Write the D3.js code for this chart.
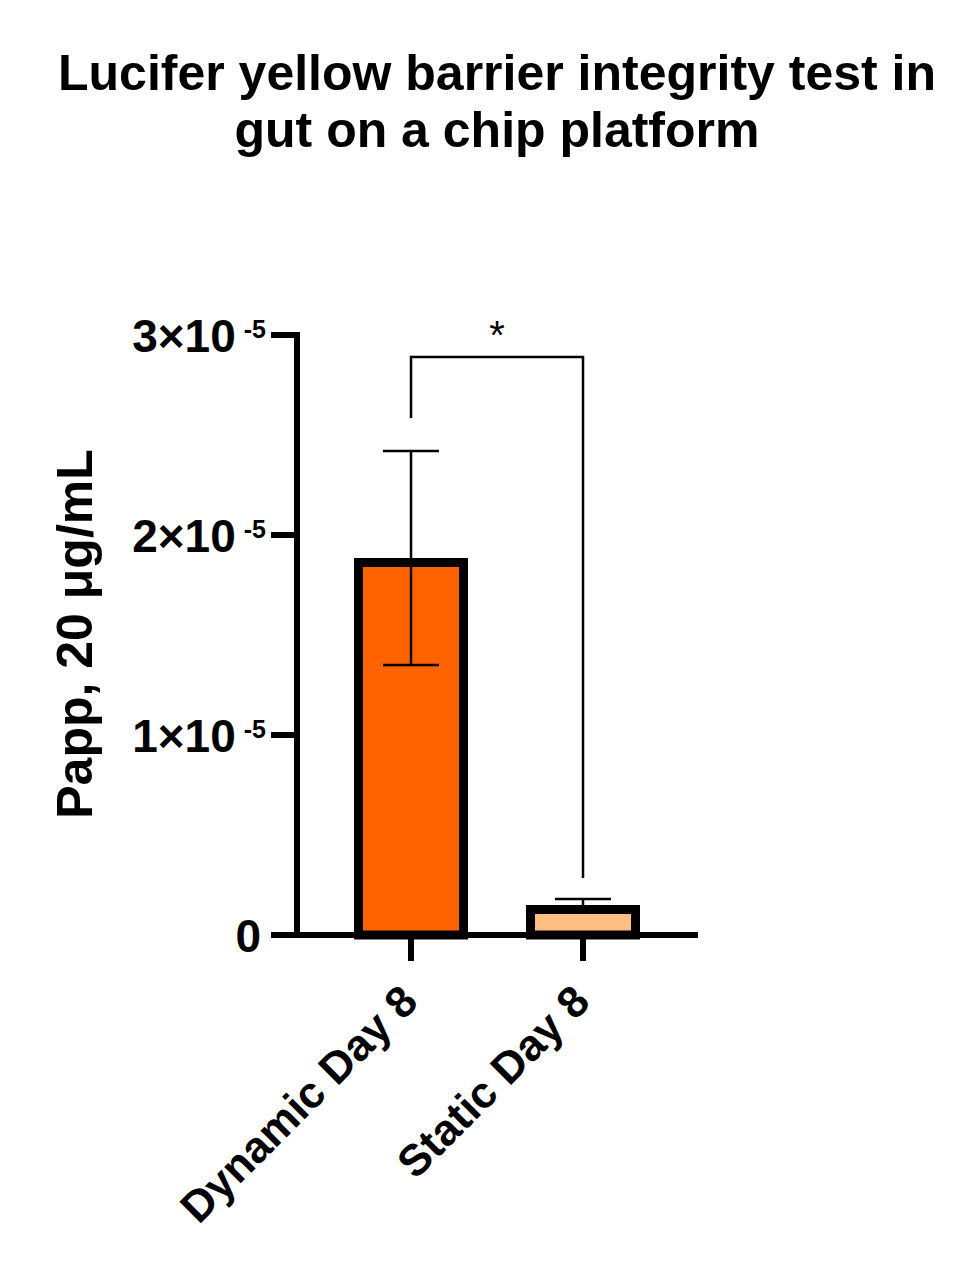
<!DOCTYPE html>
<html>
<head>
<meta charset="utf-8">
<script src="https://cdn.jsdelivr.net/npm/d3@7"></script>
<style>
  body { margin: 0; background: #fff; }
  svg text { font-family: "Liberation Sans", Arial, sans-serif; font-weight: bold; fill: #000; }
</style>
</head>
<body>
<div id="chart"></div>
<script>
// data
var groups = ["Dynamic Day 8", "Static Day 8"];
var means = [1.885e-5, 0.15e-5];
var sds = [0.535e-5, 0.03e-5];
var fills = ["#ff6300", "#ffbe82"];
var yTicks = [0, 1e-5, 2e-5, 3e-5];
var titleLines = ["Lucifer yellow barrier integrity test in", "gut on a chip platform"];
var sig = { from: 0, to: 1, label: "*", y: 2.89e-5, leftEnd: 2.585e-5, rightEnd: 0.285e-5 };

var W = 979, H = 1271;

var svg = d3.select("#chart").append("svg")
	.attr("width", W)
	.attr("height", H);

// scales
var y = d3.scaleLinear().domain([0, 3e-5]).range([935, 335]);
var x = d3.scalePoint().domain(groups).range([411, 583]);
var barW = 114;

// title
svg.append("g").selectAll("text")
	.data(titleLines)
	.enter().append("text")
	.attr("x", 497)
	.attr("y", function(d, i) { return 90 + i * 57; })
	.attr("text-anchor", "middle")
	.style("font-size", "50px")
	.text(function(d) { return d; });

// bars (stroke drawn inside the bar outline)
var bw = 9;
svg.append("g").selectAll("rect")
	.data(groups)
	.enter().append("rect")
	.attr("x", function(d) { return x(d) - barW / 2 + bw / 2; })
	.attr("y", function(d, i) { return y(means[i]) + bw / 2; })
	.attr("width", barW - bw)
	.attr("height", function(d, i) { return y(0) - y(means[i]) - bw / 2; })
	.attr("fill", function(d, i) { return fills[i]; })
	.attr("stroke", "#000")
	.attr("stroke-width", bw);

// error bars
var eb = svg.append("g").attr("stroke", "#000").attr("stroke-width", 2.5);
groups.forEach(function(g, i) {
	var cx = x(g);
	var hi = y(means[i] + sds[i]), lo = y(means[i] - sds[i]);
	eb.append("line").attr("x1", cx).attr("x2", cx).attr("y1", hi).attr("y2", i === 0 ? lo : y(means[i]));
	eb.append("line").attr("x1", cx - 28).attr("x2", cx + 28).attr("y1", hi).attr("y2", hi);
	if (i === 0) eb.append("line").attr("x1", cx - 28).attr("x2", cx + 28).attr("y1", lo).attr("y2", lo);
});

// y axis
var yAxis = svg.append("g");
yAxis.append("line")
	.attr("x1", 297).attr("x2", 297)
	.attr("y1", y(3e-5) - 3).attr("y2", y(0) + 3)
	.attr("stroke", "#000").attr("stroke-width", 6);
yAxis.selectAll("line.tick")
	.data(yTicks)
	.enter().append("line")
	.attr("class", "tick")
	.attr("x1", 271).attr("x2", 297)
	.attr("y1", function(d) { return y(d); })
	.attr("y2", function(d) { return y(d); })
	.attr("stroke", "#000").attr("stroke-width", 6);

var tl = yAxis.selectAll("text")
	.data(yTicks)
	.enter().append("text")
	.attr("x", 266)
	.attr("y", function(d) { return y(d) + 17; })
	.attr("text-anchor", "end")
	.style("font-size", "46px");
tl.each(function(d) {
	var t = d3.select(this);
	if (d === 0) { t.attr("x", 261).text("0"); return; }
	t.append("tspan").text(Math.round(d / 1e-5) + "×10");
	t.append("tspan").attr("dx", 8).attr("dy", -14).style("font-size", "25px").text("-5");
});

// y axis title
svg.append("text")
	.attr("transform", "translate(92,634) rotate(-90)")
	.attr("text-anchor", "middle")
	.style("font-size", "50px")
	.text("Papp, 20 μg/mL");

// x axis
var xAxis = svg.append("g");
xAxis.append("line")
	.attr("x1", 271).attr("x2", 698)
	.attr("y1", y(0)).attr("y2", y(0))
	.attr("stroke", "#000").attr("stroke-width", 6);
xAxis.selectAll("line.tick")
	.data(groups)
	.enter().append("line")
	.attr("x1", function(d) { return x(d); })
	.attr("x2", function(d) { return x(d); })
	.attr("y1", y(0)).attr("y2", 961)
	.attr("stroke", "#000").attr("stroke-width", 6);
xAxis.selectAll("text")
	.data(groups)
	.enter().append("text")
	.attr("transform", function(d) {
		return "translate(" + (x(d) + 9) + ",1004) rotate(-45)";
	})
	.attr("text-anchor", "end")
	.style("font-size", "44px")
	.text(function(d) { return d; });

// significance bracket
var x1 = x(groups[sig.from]),
	x2 = x(groups[sig.to]);
svg.append("path")
	.attr("d", "M" + x1 + "," + y(sig.leftEnd) + "V" + y(sig.y) + "H" + x2 + "V" + y(sig.rightEnd))
	.attr("fill", "none")
	.attr("stroke", "#000")
	.attr("stroke-width", 2.5);
svg.append("text")
	.attr("x", (x1 + x2) / 2)
	.attr("y", y(sig.y) - 8)
	.attr("text-anchor", "middle")
	.style("font-size", "40px")
	.style("font-weight", "normal")
	.text(sig.label);
</script>
</body>
</html>
